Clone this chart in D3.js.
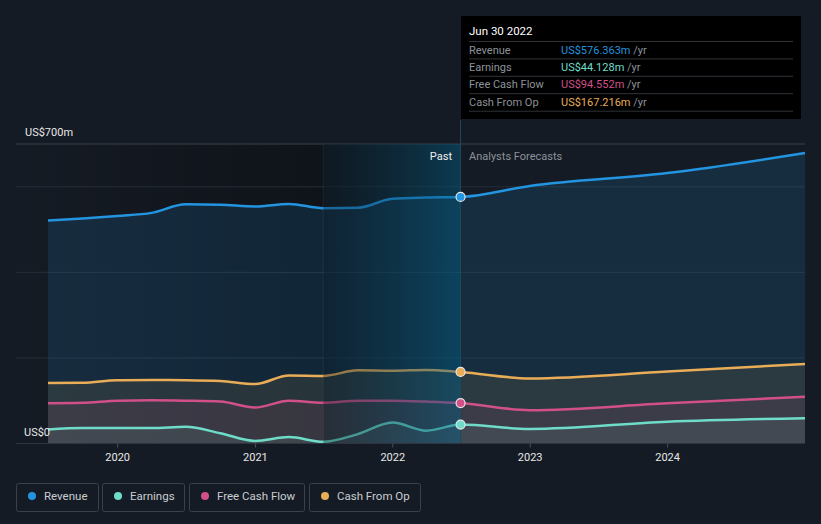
<!DOCTYPE html>
<html>
<head>
<meta charset="utf-8">
<script src="https://cdn.jsdelivr.net/npm/d3@7"></script>
<style>
  html, body { margin: 0; padding: 0; background: #151b24; }
  svg { display: block; font-family: Roboto, "Noto Sans", sans-serif; }
</style>
</head>
<body>
<div id="chart"></div>
<script>
// quarterly past values (US$m, trailing twelve months) then analyst forecasts
const dates = ["2019-06-30","2019-09-30","2019-12-31","2020-03-31","2020-06-30","2020-09-30","2020-12-31",
  "2021-03-31","2021-06-30","2021-09-30","2021-12-31","2022-03-31","2022-06-30",
  "2022-12-31","2023-12-31","2024-12-31"];
const revenue = [521, 526, 532, 539, 559, 558, 554, 560, 550, 551, 572, 575, 576.363, 602, 632, 679];
const earnings = [33, 36, 36, 36, 39, 24, 6, 15, 4, 22, 49, 30, 44.128, 34, 51, 59];
const freeCashFlow = [94, 95, 100, 101, 100, 98, 84, 100, 95, 100, 100, 98, 94.552, 78, 94, 109];
const cashFromOp = [141.5, 142, 148, 148.5, 148, 146, 139, 159, 158, 171, 170, 172, 167.216, 152, 168, 186];
const yTicks = [0, 200, 400, 600, 700];
const xTicks = ["2020", "2021", "2022", "2023", "2024"];
const pastStart = "2021-06-30";
const nowDate = "2022-06-30";

const series = [
  {name: "Revenue", values: revenue, color: "#2394df", tip: "US$576.363m", fill: 0.15},
  {name: "Earnings", values: earnings, color: "#6fdcca", tip: "US$44.128m", fill: 0.1},
  {name: "Free Cash Flow", values: freeCashFlow, color: "#d1508a", tip: "US$94.552m", fill: 0.1},
  {name: "Cash From Op", values: cashFromOp, color: "#e9ad58", tip: "US$167.216m", fill: 0.1}
];

const W = 821, H = 524;
const parse = d3.timeParse("%Y-%m-%d");
const x = d3.scaleTime().domain([parse(dates[0]), parse(dates[dates.length - 1])]).range([48, 805]);
const y = d3.scaleLinear().domain([0, 700]).range([443.5, 144]);
const left = 16, right = 805;

const svg = d3.select("#chart").append("svg").attr("width", W).attr("height", H);
const defs = svg.append("defs");

const dark = defs.append("linearGradient").attr("id", "dark");
dark.append("stop").attr("offset", "0%").attr("stop-color", "#000").attr("stop-opacity", 0);
dark.append("stop").attr("offset", "100%").attr("stop-color", "#000").attr("stop-opacity", 0.3);

const hl = defs.append("linearGradient").attr("id", "hl");
hl.append("stop").attr("offset", "0%").attr("stop-color", "#03141c").attr("stop-opacity", 0.35);
hl.append("stop").attr("offset", "100%").attr("stop-color", "#005f86").attr("stop-opacity", 0.45);

svg.append("rect").attr("width", W).attr("height", H).attr("fill", "#151b24");

// past shading
svg.append("rect")
  .attr("x", left).attr("y", y(700))
  .attr("width", x(parse(pastStart)) - left).attr("height", y(0) - y(700))
  .attr("fill", "url(#dark)");

// grid
svg.append("g").selectAll("line")
  .data(yTicks.filter(d => d > 0))
  .enter().append("line")
  .attr("x1", left).attr("x2", right)
  .attr("y1", d => y(d)).attr("y2", d => y(d))
  .attr("stroke", d => d == 700 ? "#3b4049" : "#262d37")
  .attr("stroke-width", 1);

// areas and lines
const pts = s => s.values.map((v, i) => ({d: parse(dates[i]), v: v}));
const area = d3.area().x(p => x(p.d)).y0(y(0)).y1(p => y(p.v)).curve(d3.curveMonotoneX);
const line = d3.line().x(p => x(p.d)).y(p => y(p.v)).curve(d3.curveMonotoneX);

series.forEach(s => {
  svg.append("path").datum(pts(s))
    .attr("d", area)
    .attr("fill", s.color)
    .attr("fill-opacity", s.fill);
});
series.forEach(s => {
  svg.append("path").datum(pts(s))
    .attr("d", line)
    .attr("fill", "none")
    .attr("stroke", s.color)
    .attr("stroke-width", 2.5);
});

// highlighted last year of the past
const xs = x(parse(pastStart)), xn = x(parse(nowDate));
svg.append("rect")
  .attr("x", xs).attr("y", y(700))
  .attr("width", xn - xs).attr("height", y(0) - y(700))
  .attr("fill", "url(#hl)");
svg.append("line")
  .attr("x1", xs).attr("x2", xs).attr("y1", y(700)).attr("y2", y(0))
  .attr("stroke", "#ffffff").attr("stroke-opacity", 0.06).attr("stroke-width", 1);
svg.append("line")
  .attr("x1", xn).attr("x2", xn).attr("y1", 120).attr("y2", y(0))
  .attr("stroke", "#1d4a5c").attr("stroke-width", 1);

// x axis
svg.append("line")
  .attr("x1", left).attr("x2", right).attr("y1", y(0)).attr("y2", y(0))
  .attr("stroke", "#2e3540");
const xa = svg.append("g");
xTicks.forEach(t => {
  const xx = x(parse(t + "-01-01"));
  xa.append("line").attr("x1", xx).attr("x2", xx).attr("y1", y(0)).attr("y2", y(0) + 4)
    .attr("stroke", "#4a515b");
  xa.append("text").attr("x", xx).attr("y", 461)
    .attr("text-anchor", "middle").attr("fill", "#e8e8e8").attr("font-size", 11).text(t);
});

// y labels
svg.append("text").attr("x", 25).attr("y", 136).attr("fill", "#e8e8e8").attr("font-size", 11).text("US$700m");
svg.append("text").attr("x", 24).attr("y", 436).attr("fill", "#e8e8e8").attr("font-size", 11).text("US$0");

svg.append("text").attr("x", 452).attr("y", 160).attr("text-anchor", "end")
  .attr("fill", "#f0f0f0").attr("font-size", 11).text("Past");
svg.append("text").attr("x", 469).attr("y", 160)
  .attr("fill", "#8c929a").attr("font-size", 11).text("Analysts Forecasts");

// markers
series.forEach(s => {
  svg.append("circle")
    .attr("cx", xn).attr("cy", y(s.values[12])).attr("r", 4.5)
    .attr("fill", s.color).attr("stroke", "#e6e6e6").attr("stroke-width", 1.2);
});

// tooltip
const tip = svg.append("g");
tip.append("rect").attr("x", 461).attr("y", 16).attr("width", 340).attr("height", 103).attr("fill", "#000");
tip.append("text").attr("x", 469).attr("y", 35).attr("fill", "#fff").attr("font-size", 11.5).text("Jun 30 2022");
series.forEach((s, i) => {
  const ty = 41.5 + i * 17.4;
  tip.append("line").attr("x1", 469).attr("x2", 793).attr("y1", ty).attr("y2", ty).attr("stroke", "#2f3338");
  const t = tip.append("text").attr("x", 469).attr("y", ty + 12).attr("font-size", 11);
  t.append("tspan").attr("fill", "#8d9299").text(s.name);
  const v = tip.append("text").attr("x", 561).attr("y", ty + 12).attr("font-size", 11);
  v.append("tspan").attr("fill", s.color).text(s.tip);
  v.append("tspan").attr("fill", "#8d9299").text(" /yr");
});
tip.append("line").attr("x1", 469).attr("x2", 793).attr("y1", 111.2).attr("y2", 111.2).attr("stroke", "#2f3338");

// legend
const legX = [16, 102, 189, 309];
const legW = [82, 82, 115, 111];
series.forEach((s, i) => {
  const g = svg.append("g").attr("transform", `translate(${legX[i]},483)`);
  g.append("rect").attr("x", 0.5).attr("y", 0.5).attr("width", legW[i]).attr("height", 28).attr("rx", 2)
    .attr("fill", "none").attr("stroke", "#3a414b");
  g.append("circle").attr("cx", 16).attr("cy", 13).attr("r", 4).attr("fill", s.color);
  g.append("text").attr("x", 28).attr("y", 17).attr("fill", "#c9cdd2").attr("font-size", 11.5).text(s.name);
});
</script>
</body>
</html>
